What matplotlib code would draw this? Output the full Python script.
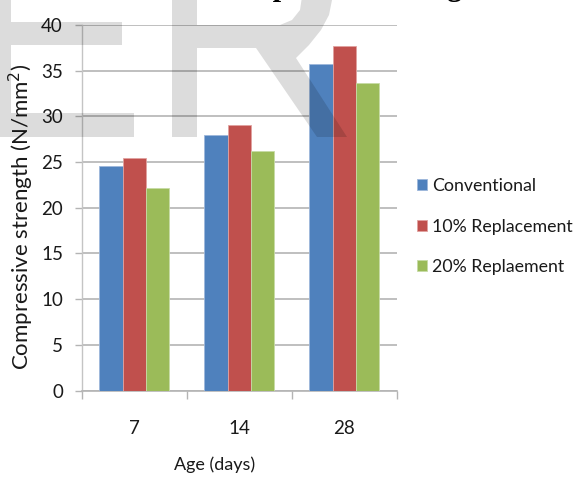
import matplotlib
matplotlib.use("Agg")
import matplotlib.pyplot as plt
import numpy as np
from matplotlib.path import Path
from matplotlib.patches import PathPatch
from matplotlib.transforms import Affine2D

# --- data -------------------------------------------------------------
ages = ["7", "14", "28"]
series_names = ["Conventional", "10% Replacement", "20% Replaement"]
conventional = [24.6, 28.0, 35.7]
replacement_10 = [25.4, 29.1, 37.7]
replacement_20 = [22.2, 26.2, 33.7]
y_ticks = [0, 5, 10, 15, 20, 25, 30, 35, 40]

colors = ["#4F81BD", "#C0504D", "#9BBB59"]
edge_colors = ["#9DB7DB", "#E1A2A0", "#C7DBA6"]

W, H = 573, 478
plt.rcParams["font.family"] = ["Lato", "DejaVu Sans"]

fig = plt.figure(figsize=(W / 100, H / 100), dpi=100)
fig.patch.set_facecolor("white")
ax = fig.add_axes([81.7 / W, 1 - 390.5 / H, 315 / W, 365.5 / H])

x = np.arange(len(ages))
bw = 0.222
all_series = [conventional, replacement_10, replacement_20]
handles = []
for i, (vals, c, ec, name) in enumerate(zip(all_series, colors, edge_colors, series_names)):
    b = ax.bar(x + (i - 1) * bw, vals, width=bw, color=c, edgecolor=ec,
               linewidth=0.6, label=name, zorder=3)
    handles.append(b)

ax.set_xlim(-0.5, len(ages) - 0.5)
ax.set_ylim(0, 40)
ax.set_yticks(y_ticks)
ax.set_yticklabels([str(t) for t in y_ticks])
ax.set_xticks(x)
ax.set_xticklabels(ages)
ax.set_xticks(np.arange(len(ages) + 1) - 0.5, minor=True)

ax.yaxis.grid(True, color="#b4b4b4", linewidth=1.2, zorder=0)
ax.set_axisbelow(True)

for s in ["top", "right"]:
    ax.spines[s].set_visible(False)
ax.spines["left"].set_color("#c4c4c4")
ax.spines["left"].set_linewidth(1.0)
ax.spines["bottom"].set_color("#b4b4b4")
ax.spines["bottom"].set_linewidth(1.2)

ax.tick_params(axis="y", length=5, width=1.0, color="#b4b4b4", pad=8.5,
               labelsize=13.5, labelcolor="#1a1a1a")
ax.tick_params(axis="x", which="major", length=0, pad=21, labelsize=13.5,
               labelcolor="#1a1a1a")
ax.tick_params(axis="x", which="minor", length=5.5, width=1.0, color="#b4b4b4")

ax.set_ylabel("Compressive strength (N/mm$^2$)", fontsize=16, color="#1a1a1a")
ax.yaxis.set_label_coords(-0.193, 0.4747)
ax.yaxis.label.set_va("center")
ax.set_xlabel("Age (days)", fontsize=13, color="#1a1a1a")
ax.xaxis.set_label_coords(0.4216, -0.204)
ax.xaxis.label.set_va("center")

leg = fig.legend(handles=handles, labels=series_names, loc="upper left",
                 bbox_to_anchor=(417 / W, 1 - 178 / H), frameon=False,
                 fontsize=12.8, handlelength=0.55, handleheight=0.55,
                 handletextpad=0.3, labelspacing=1.38, borderpad=0,
                 borderaxespad=0)
for t in leg.get_texts():
    t.set_color("#1a1a1a")

# heading running off the top edge
fig.text(211 / W, 1 + 4.5 / H, "Compressive strength", family="Liberation Serif",
         weight="bold", fontsize=21.6, ha="left", va="baseline", color="black")

# translucent "ER" overlay letters, drawn in pixel units (y pointing down)
px = Affine2D().scale(1 / W, -1 / H).translate(0, 1) + fig.transFigure

E_verts = [(-20, -10), (11, -10), (11, 22), (122, 22), (122, 45), (11, 45),
           (11, 113), (134, 113), (134, 137), (-20, 137), (-20, -10)]
R_verts = [(172, 137), (172, -10), (197, -10), (197, 25), (280, 25), (292, 20),
           (300, 10), (303, -10), (334, -10), (332, 0), (329, 15), (321, 30),
           (309, 45), (296, 58), (347, 137), (317, 137), (256, 48), (197, 48),
           (197, 137), (172, 137)]
for verts in (E_verts, R_verts):
    codes = [Path.MOVETO] + [Path.LINETO] * (len(verts) - 2) + [Path.CLOSEPOLY]
    patch = PathPatch(Path(verts, codes), transform=px, facecolor="black",
                      edgecolor="none", alpha=0.137, zorder=10)
    fig.add_artist(patch)

fig.savefig("out.png", dpi=100)
